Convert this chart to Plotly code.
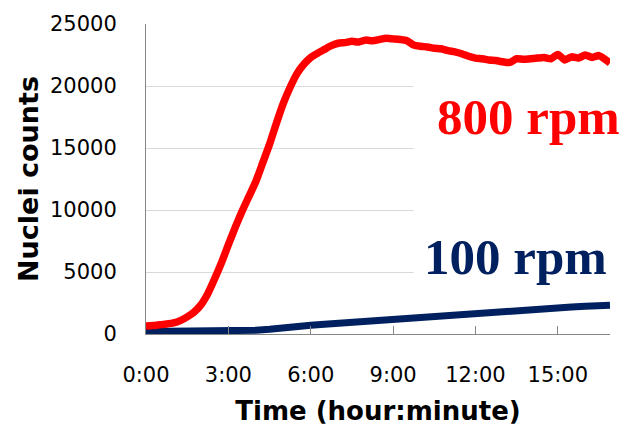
import plotly.graph_objects as go

# Time in hours
t_red = [0.00, 0.25, 0.50, 0.75, 1.00, 1.25, 1.50, 1.75, 2.00, 2.25, 2.50, 2.75,
         3.00, 3.25, 3.50, 3.75, 4.00, 4.25, 4.50, 4.75, 5.00, 5.25, 5.50, 5.75,
         6.00, 6.25, 6.50, 6.75, 7.00, 7.25, 7.50, 7.75, 8.00, 8.25, 8.50, 8.75,
         9.00, 9.25, 9.50, 9.75, 10.00, 10.25, 10.50, 10.75, 11.00, 11.25, 11.50, 11.75,
         12.00, 12.25, 12.50, 12.75, 13.00, 13.25, 13.50, 13.75, 14.00, 14.25, 14.50, 14.75,
         15.00, 15.25, 15.50, 15.75, 16.00, 16.25, 16.50, 16.75, 16.90]
rpm800 = [650, 680, 740, 800, 890, 1080, 1380, 1760, 2350, 3250, 4450, 5750,
          7200, 8600, 9900, 11100, 12300, 13800, 15300, 17000, 18600, 19900, 21000, 21750,
          22300, 22650, 22950, 23250, 23450, 23500, 23600, 23550, 23700, 23650, 23750, 23850,
          23800, 23750, 23650, 23300, 23200, 23150, 23050, 23000, 22850, 22750, 22600, 22400,
          22250, 22200, 22100, 22050, 21950, 21900, 22200, 22150, 22200, 22250, 22300, 22200,
          22550, 22100, 22350, 22250, 22500, 22300, 22450, 22100, 21850]

t_blue = [0.0, 0.5, 1.0, 1.5, 2.0, 2.5, 3.0, 3.5, 4.0, 4.5, 5.0, 5.5, 6.0, 6.5, 7.0,
          7.5, 8.0, 8.5, 9.0, 9.5, 10.0, 10.5, 11.0, 11.5, 12.0, 12.5, 13.0, 13.5,
          14.0, 14.5, 15.0, 15.5, 16.0, 16.5, 16.9]
rpm100 = [200, 200, 200, 200, 200, 210, 220, 250, 300, 380, 520, 600, 700, 780, 860,
          940, 1040, 1120, 1200, 1270, 1330, 1400, 1460, 1560, 1760, 1820, 1880, 1940,
          2010, 2070, 2140, 2180, 2240, 2280, 2320]

tick_vals = [0, 3, 6, 9, 12, 15]
tick_text = ["0:00", "3:00", "6:00", "9:00", "12:00", "15:00"]
y_ticks = [0, 5000, 10000, 15000, 20000, 25000]

RED = "#FF0000"
NAVY = "#002060"

fig = go.Figure()
fig.add_trace(go.Scatter(x=t_blue, y=rpm100, mode="lines",
                         line=dict(color=NAVY, width=7), showlegend=False))
fig.add_trace(go.Scatter(x=t_red, y=rpm800, mode="lines",
                         line=dict(color=RED, width=7.5, shape="spline", smoothing=0.6),
                         showlegend=False))

# white label box covering gridlines
fig.add_shape(type="rect", xref="x", yref="y", x0=9.75, x1=16.9, y0=3600, y1=21000,
              fillcolor="white", line=dict(width=0), layer="between")

fig.add_annotation(x=13.93, y=17500, xref="x", yref="y", text="<b>800 rpm</b>",
                   showarrow=False, font=dict(family="Liberation Serif", size=51, color=RED))
fig.add_annotation(x=13.45, y=6250, xref="x", yref="y", text="<b>100 rpm</b>",
                   showarrow=False, font=dict(family="Liberation Serif", size=51, color=NAVY))

fig.update_layout(
    width=625, height=435,
    margin=dict(l=146, r=15, t=19, b=101),
    paper_bgcolor="white", plot_bgcolor="white",
    font=dict(family="DejaVu Sans", color="black"),
)
fig.update_xaxes(range=[0, 16.9], tickvals=tick_vals, ticktext=tick_text,
                 showgrid=False, zeroline=False,
                 showline=True, linecolor="#868686", linewidth=1,
                 ticks="inside", ticklen=8, tickcolor="#868686",
                 tickfont=dict(size=21), ticklabelstandoff=22,
                 title=dict(text="<b>Time (hour:minute)</b>", font=dict(size=26), standoff=15))
fig.update_yaxes(range=[0, 25000], tickvals=y_ticks, tickformat="d",
                 showgrid=True, gridcolor="#D9D9D9",
                 gridwidth=1, zeroline=False,
                 showline=True, linecolor="#868686", linewidth=1,
                 ticks="", tickfont=dict(size=21), ticklabelstandoff=24,
                 title=dict(text="<b>Nuclei counts</b>", font=dict(size=27), standoff=3))

fig.write_html("out.html")
